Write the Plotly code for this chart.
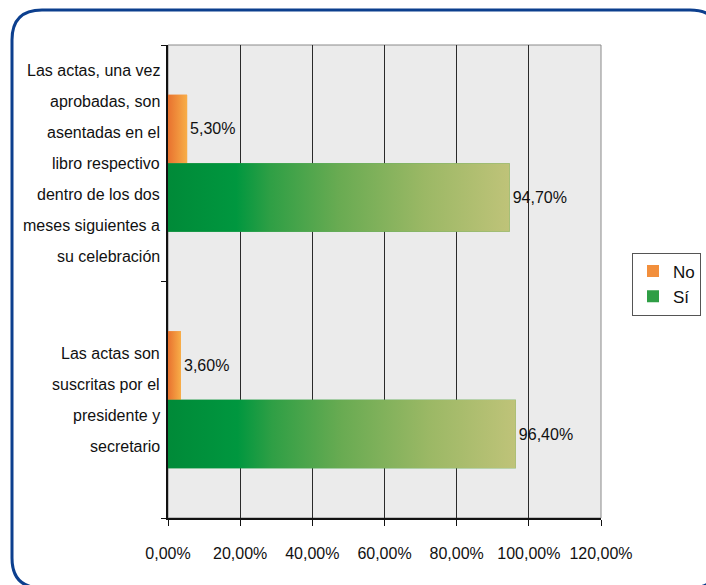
import plotly.graph_objects as go

# ---- data ----
categories = [
    "Las actas, una vez<br>aprobadas, son<br>asentadas en el<br>libro respectivo<br>dentro de los dos<br>meses siguientes a<br>su celebración",
    "Las actas son<br>suscritas por el<br>presidente y<br>secretario",
]
series_names = ["No", "Sí"]
no_values = [5.30, 3.60]
si_values = [94.70, 96.40]
x_tick_values = [0, 20, 40, 60, 80, 100, 120]
x_tick_labels = [f"{v:.2f}%".replace(".", ",") for v in x_tick_values]

# ---- layout constants ----
W, H = 706, 585
L, R, T, B = 168, 105, 45, 67
PW, PH = W - L - R, H - T - B
FONT = "Liberation Sans Narrow, Arial Narrow, Liberation Sans, Arial, sans-serif"
FS = 16
BAR_W = 0.29

def px(xp, yp):
    return (xp - L) / PW, (H - B - yp) / PH

cat_pos = list(range(len(categories)))

fig = go.Figure()

fig.add_trace(go.Bar(
    name=series_names[0], orientation="h", y=cat_pos, x=no_values,
    width=BAR_W, offset=-BAR_W, marker=dict(color="#f28f3c", line=dict(width=0)),
    text=no_values, texttemplate="%{x:.2f}%", textposition="outside",
    textfont=dict(family=FONT, size=FS, color="#111"), cliponaxis=False,
))
fig.add_trace(go.Bar(
    name=series_names[1], orientation="h", y=cat_pos, x=si_values,
    width=BAR_W, offset=0, marker=dict(color="#2f9e45", line=dict(width=0)),
    text=si_values, texttemplate="%{x:.2f}%", textposition="outside",
    textfont=dict(family=FONT, size=FS, color="#111"), cliponaxis=False,
))

# gradient overlays on each bar (same geometry as the bars)
orange_scale = [[0, "#e8722f"], [1, "#f8ae48"]]
green_scale = [[0, "#008a38"], [0.2, "#00973f"], [0.3, "#2f9f45"],
               [0.5, "#69ab52"], [0.75, "#9bb865"], [1, "#bfc379"]]
for vals, off, scale in [(no_values, -BAR_W, orange_scale), (si_values, 0, green_scale)]:
    for c, v in zip(cat_pos, vals):
        y0, y1 = c + off, c + off + BAR_W
        fig.add_trace(go.Scatter(
            x=[0, v, v, 0, 0], y=[y0, y0, y1, y1, y0], mode="lines",
            line=dict(width=0), fill="toself",
            fillgradient=dict(type="horizontal", colorscale=scale),
            showlegend=False, hoverinfo="skip",
        ))

# category labels, one line per annotation
LINE_H = 31
for c, lab in zip(cat_pos, categories):
    lines = lab.split("<br>")
    n = len(lines)
    for i, ln in enumerate(lines):
        fig.add_annotation(
            x=0, xref="paper", y=c, yref="y", text=ln, showarrow=False,
            xanchor="right", yanchor="middle", xshift=-6,
            yshift=((n - 1) / 2 - i) * LINE_H,
            font=dict(family=FONT, size=FS, color="#111"), align="right",
        )

# outer rounded frame
x0, y0 = px(12, 10)
x1, y1 = px(720, 588)
rx = 30 / PW
ry = 30 / PH
path = (f"M {x0+rx},{y0} L {x1-rx},{y0} Q {x1},{y0} {x1},{y0-ry} "
        f"L {x1},{y1+ry} Q {x1},{y1} {x1-rx},{y1} L {x0+rx},{y1} "
        f"Q {x0},{y1} {x0},{y1+ry} L {x0},{y0-ry} Q {x0},{y0} {x0+rx},{y0} Z")
fig.add_shape(type="path", path=path, xref="paper", yref="paper",
              line=dict(color="#0c3f8e", width=3), layer="above")
# plot area border (grey)
fig.add_shape(type="rect", xref="paper", yref="paper", x0=0, y0=0, x1=1, y1=1,
              line=dict(color="#8a8a8a", width=1), layer="below")

fig.update_layout(
    width=W, height=H, margin=dict(l=L, r=R, t=T, b=B, autoexpand=False),
    paper_bgcolor="white", plot_bgcolor="#ebebeb",
    separators=",.", barmode="overlay",
    font=dict(family=FONT, size=FS, color="#111"),
    legend=dict(x=px(632, 0)[0], y=px(0, 284)[1], xanchor="left", yanchor="middle",
                bordercolor="#555", borderwidth=1, bgcolor="white",
                font=dict(family=FONT, size=FS + 1, color="#111"),
                itemwidth=30, tracegroupgap=6),
    showlegend=True,
)
fig.update_xaxes(
    range=[0, 120], tickvals=x_tick_values, ticktext=x_tick_labels,
    showgrid=True, gridcolor="#2a2a2a", gridwidth=1,
    showline=True, linecolor="#111", linewidth=1.5,
    ticks="outside", ticklen=6, tickcolor="#111",
    tickfont=dict(family=FONT, size=FS, color="#111"),
    ticklabelstandoff=14, zeroline=False, fixedrange=True,
)
fig.update_yaxes(
    range=[1.5, -0.5], tickvals=[-0.5, 0.5, 1.5], ticktext=["", "", ""],
    showgrid=False, showline=True, linecolor="#111", linewidth=1.5,
    ticks="outside", ticklen=5, tickcolor="#111", zeroline=False, fixedrange=True,
)

fig.write_html("out.html", config={"displayModeBar": False},
               post_script="document.body.style.margin='0';document.body.style.overflow='hidden';")
